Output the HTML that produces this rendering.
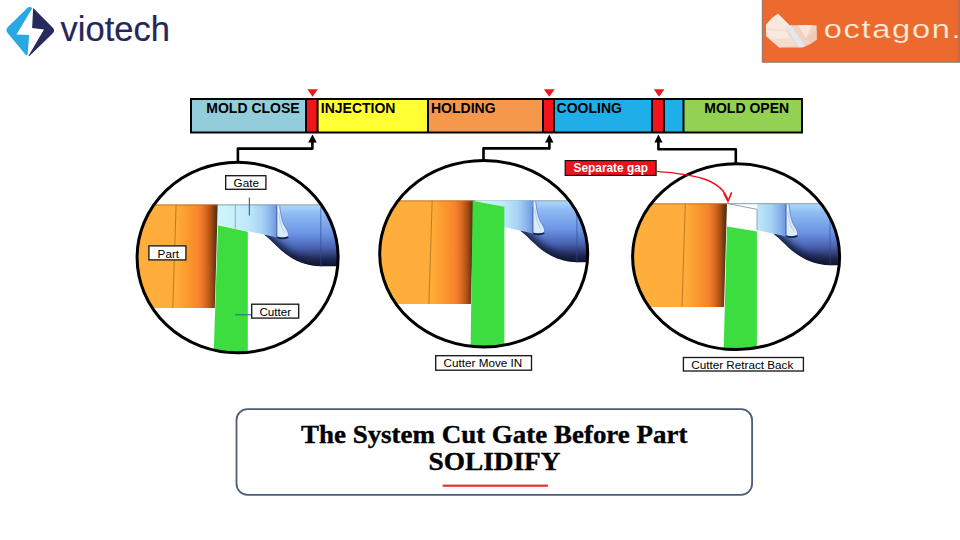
<!DOCTYPE html>
<html><head><meta charset="utf-8">
<style>
html,body{margin:0;padding:0;background:#fff;}
body{width:960px;height:540px;overflow:hidden;position:relative;}
svg{position:absolute;left:0;top:0;}
.bar{font-family:"Liberation Sans",Arial,sans-serif;font-weight:bold;font-size:14px;fill:#000;}
.lbl{font-family:"Liberation Sans",Arial,sans-serif;font-size:11.7px;fill:#000;}
</style></head>
<body>
<svg width="960" height="540" viewBox="0 0 960 540">
<defs>
  <linearGradient id="gOr" gradientUnits="userSpaceOnUse" x1="-140" y1="0" x2="0" y2="0">
    <stop offset="0" stop-color="#ffb03c"/>
    <stop offset="0.70" stop-color="#fead3a"/>
    <stop offset="0.757" stop-color="#fba030"/>
    <stop offset="0.829" stop-color="#f98e2a"/>
    <stop offset="0.864" stop-color="#f8832a"/>
    <stop offset="0.886" stop-color="#ee7828"/>
    <stop offset="0.914" stop-color="#d86820"/>
    <stop offset="0.936" stop-color="#c05a18"/>
    <stop offset="0.957" stop-color="#a04a18"/>
    <stop offset="0.979" stop-color="#6a3a10"/>
    <stop offset="1" stop-color="#4a3210"/>
  </linearGradient>
  <linearGradient id="gGate" gradientUnits="userSpaceOnUse" x1="0" y1="0" x2="59" y2="0">
    <stop offset="0" stop-color="#d0f6fc"/>
    <stop offset="0.5" stop-color="#bfeafa"/>
    <stop offset="0.75" stop-color="#a6d2f5"/>
    <stop offset="0.9" stop-color="#88b2ec"/>
    <stop offset="1" stop-color="#6c96e2"/>
  </linearGradient>
  <linearGradient id="gRun" gradientUnits="userSpaceOnUse" x1="0" y1="0" x2="0" y2="63">
    <stop offset="0" stop-color="#b0dcfa"/>
    <stop offset="0.14" stop-color="#90bcf4"/>
    <stop offset="0.46" stop-color="#6c94e4"/>
    <stop offset="0.68" stop-color="#4a64b4"/>
    <stop offset="0.83" stop-color="#2a3468"/>
    <stop offset="0.94" stop-color="#1a2040"/>
    <stop offset="1" stop-color="#121830"/>
  </linearGradient>
  <clipPath id="runClip"><path d="M46,30 C60,40 70,60 103,62 H160 V0 H59 V30 Z"/></clipPath>
  <filter id="bl3" x="-50%" y="-50%" width="200%" height="200%"><feGaussianBlur stdDeviation="3.5"/></filter>
  <clipPath id="c1"><ellipse cx="237.6" cy="257.5" rx="100.5" ry="95.3"/></clipPath>
  <clipPath id="c2"><ellipse cx="483.7" cy="253.7" rx="104" ry="93.3"/></clipPath>
  <clipPath id="c3"><ellipse cx="736.1" cy="256.7" rx="103.5" ry="92.9"/></clipPath>
  <g id="base">
    <!-- orange part -->
    <path d="M-160,0 H0 L-3,103.5 H-160 Z" fill="url(#gOr)"/>
    <path d="M-160,0.4 H0" stroke="#b86a2a" stroke-width="0.8"/>
    <path d="M-41.7,0 L-45,103.5" stroke="#b87420" stroke-width="0.9"/>
    <!-- runner -->
    <g clip-path="url(#runClip)">
      <path d="M46,30 C60,40 70,60 103,62 H160 V0 H59 V30 Z" fill="url(#gRun)"/>
      <path d="M38,27 C58,40 68,66 103,67 H165" stroke="#0e1430" stroke-width="16" fill="none" filter="url(#bl3)" opacity="0.85"/>
    </g>
    <path d="M103,2 V62" stroke="#2d4a8a" stroke-width="0.8" opacity="0.8"/>
    <!-- fillet swirl -->
    <path d="M59,0 L61.8,0 C62.8,9 63.8,15 66,20 C68.5,24.5 71.5,28 70.5,32 C67,33.5 62,33 59,32.5 Z" fill="#e4f2fd" opacity="0.92"/>
    <path d="M61.8,0.5 C62.8,9 63.8,15 66,20 C68.5,24.5 71.5,28 70.5,32" fill="none" stroke="#5a7cc4" stroke-width="0.8"/>
    <path d="M61,8 C62,18 64,24 67,28" fill="none" stroke="#9cc0ee" stroke-width="0.7"/>
    <path d="M59,32.8 C63,34 67,34.2 70.5,32.5" fill="none" stroke="#1a2550" stroke-width="1.8"/>
  </g>
</defs>

<!-- ============ LOGOS ============ -->
<g id="viotech">
  <path d="M32.3,8.2 L16.5,34.6 L29.2,35.1 L27.6,54.3 Q27.2,56.2 25.4,54.5 L7.8,33.2 Q5,30 7.9,27.1 L27,8.2 Q29.6,5.8 32.3,8.2 Z" fill="#29a9e1"/>
  <path d="M33.2,8.1 L52.6,27.4 Q55.6,30.4 52.6,33.4 L30.2,55.2 Q28.6,56.8 28.4,55.9 L44,29.4 L32.1,27.9 Z" fill="#262a5e"/>
  <text x="60.6" y="40.5" font-family="'Liberation Sans',Arial,sans-serif" font-size="34.5" stroke="#262759" stroke-width="0.2" fill="#262759">viotech</text>
</g>
<g id="octagon">
  <rect x="762" y="0" width="198" height="62" fill="#ec6a2e"/>
  <rect x="957.8" y="0" width="2.2" height="62" fill="#c4694c"/>
  <path d="M762.3,0 V62.3 H960" fill="none" stroke="#8a7a78" stroke-width="1"/>
  <polygon points="778,13.8 789.5,25.3 816.6,25.3 816.6,39.7 809.3,44.5 802.7,47.5 779.3,47.5 766,36.1 766,24.7 772,18" fill="#f2d2c0"/>
  <polygon points="778,13.8 789.5,25.3 786,30 766,28.5 766,24.7 772,18" fill="#f9e8de"/>
  <polygon points="766,28.5 786,30 796,45 779.3,47.5 766,36.1" fill="#f6dccd"/>
  <polygon points="766,30 786,31 790,38 770,39" fill="#fbeee6" opacity="0.7"/>
  <polygon points="785,27 791,25.3 805,46.5 799,47.3" fill="#e0e8f0"/>
  <polygon points="798,25.3 812,25.3 806,38" fill="#f8e6dc"/>
  <polygon points="806,38 816.6,30 816.6,39.7 809.3,44.5" fill="#efcab6"/>
  <text transform="translate(823.8,38.4) scale(1.28,1)" x="0" y="0" font-family="'Liberation Sans',Arial,sans-serif" font-size="25.5" letter-spacing="1.3" fill="#fdeedc" stroke="#ec6a2e" stroke-width="0.2">octagon.</text>
</g>

<!-- ============ TIMELINE BAR ============ -->
<g id="bar">
  <rect x="191" y="99" width="115" height="33.5" fill="#93cddc"/>
  <rect x="306" y="99" width="11.5" height="33.5" fill="#f2141c"/>
  <rect x="317.5" y="99" width="110.5" height="33.5" fill="#ffff33"/>
  <rect x="428" y="99" width="115" height="33.5" fill="#f5984c"/>
  <rect x="543" y="99" width="11" height="33.5" fill="#f2141c"/>
  <rect x="554" y="99" width="98" height="33.5" fill="#1eaee8"/>
  <rect x="652" y="99" width="12" height="33.5" fill="#f2141c"/>
  <rect x="664" y="99" width="19.5" height="33.5" fill="#1eaee8"/>
  <rect x="683.5" y="99" width="118.5" height="33.5" fill="#93d152"/>
  <g stroke="#000" stroke-width="2" fill="none">
    <rect x="191" y="99" width="611" height="33.5"/>
    <path d="M306,99V132.5 M317.6,99V132.5 M428,99V132.5 M543,99V132.5 M554,99V132.5 M652,99V132.5 M664,99V132.5 M683.5,99V132.5"/>
  </g>
  <text class="bar" x="206.3" y="112.8">MOLD CLOSE</text>
  <text class="bar" x="320.8" y="112.8">INJECTION</text>
  <text class="bar" x="431" y="112.8">HOLDING</text>
  <text class="bar" x="556.6" y="112.8">COOLING</text>
  <text class="bar" x="704.3" y="112.8">MOLD OPEN</text>
  <!-- red markers -->
  <g fill="#f0141c">
    <polygon points="307.4,89.2 317.8,89.2 312.6,96.8"/>
    <polygon points="543.9,89.2 554.7,89.2 549.3,96.8"/>
    <polygon points="653.8,89.2 664.4,89.2 659.1,96.8"/>
  </g>
</g>

<!-- ============ CONNECTORS ============ -->
<g stroke="#000" stroke-width="2.6" fill="none" stroke-linejoin="round">
  <path d="M237.9,162 V148.6 H312.4 V141"/>
  <path d="M483.5,160 V148.4 H549.4 V141"/>
  <path d="M735.8,163 V149.2 H658.4 V141"/>
</g>
<g fill="#000">
  <polygon points="308.2,142.6 316.8,142.6 312.5,134.6"/>
  <polygon points="545.1,142.6 553.5,142.6 549.3,134.6"/>
  <polygon points="654.4,142.4 662.6,142.4 658.4,134.6"/>
</g>

<!-- ============ CIRCLE 1 ============ -->
<g clip-path="url(#c1)">
  <g transform="translate(217.8,204.6)">
    <use href="#base"/>
    <!-- gate -->
    <path d="M0,0 H59 V33 L46,30 L0,20 Z" fill="url(#gGate)"/>
    <path d="M17.5,0.5 V25" stroke="#7c9cb0" stroke-width="0.8"/>
    <path d="M59,0 V33" stroke="#3b5a9a" stroke-width="1"/>
    <path d="M0,0.3 H160" stroke="#8a9caa" stroke-width="1"/>
    <!-- cutter -->
    <path d="M0.2,20.6 L30,27.1 V160 H-4.5 Z" fill="#3cdd3e"/>
  </g>
</g>
<ellipse cx="237.6" cy="257.5" rx="100.5" ry="95.3" fill="none" stroke="#000" stroke-width="3"/>

<!-- ============ CIRCLE 2 ============ -->
<g clip-path="url(#c2)">
  <g transform="translate(473.9,200.5)">
    <use href="#base"/>
    <path d="M30,6 H59 V33 L46,30 L30,26.5 Z" fill="url(#gGate)"/>
    <path d="M59,0 V33" stroke="#3b5a9a" stroke-width="1"/>
    <path d="M0,0.3 H160" stroke="#8a9caa" stroke-width="1"/>
    <path d="M0,0 H59 V6.5 H30 Z" fill="url(#gGate)"/>
    <path d="M-1.2,0.2 L30.5,6.2 V160 H-3.5 Z" fill="#3cdd3e"/>
  </g>
</g>
<ellipse cx="483.7" cy="253.7" rx="104" ry="93.3" fill="none" stroke="#000" stroke-width="3"/>

<!-- ============ CIRCLE 3 ============ -->
<g clip-path="url(#c3)">
  <g transform="translate(727,203.4)">
    <use href="#base"/>
    <path d="M30,0 H59 V33 L46,30 L30,26.8 Z" fill="url(#gGate)"/>
    <path d="M59,0 V33" stroke="#3b5a9a" stroke-width="1"/>
    <path d="M0,0 L30,6 V26.8" fill="#fff" stroke="#8a98a4" stroke-width="0.9"/>
    <path d="M0,0.3 H160" stroke="#8a9caa" stroke-width="1"/>
    <path d="M0,23.1 L29.9,28.2 V160 H-3.7 Z" fill="#3cdd3e"/>
  </g>
</g>
<ellipse cx="736.1" cy="256.7" rx="103.5" ry="92.9" fill="none" stroke="#000" stroke-width="3"/>

<!-- ============ LABELS ============ -->
<g>
  <path d="M249.4,197.4 V215.5" stroke="#3e6a96" stroke-width="1.2"/>
  <rect x="225.7" y="175.7" width="40.2" height="13.6" fill="#fff" stroke="#1a1a1a" stroke-width="1.35"/>
  <text class="lbl" x="233.6" y="186.6">Gate</text>

  <rect x="148.9" y="245.9" width="37" height="14" fill="#fff" stroke="#1a1a1a" stroke-width="1.35"/>
  <text class="lbl" x="157.6" y="257.8">Part</text>

  <path d="M235,314.8 H251.3" stroke="#3e6a96" stroke-width="1.2"/>
  <rect x="251.7" y="304.2" width="47" height="13.9" fill="#fff" stroke="#1a1a1a" stroke-width="1.35"/>
  <text class="lbl" x="259.4" y="315.6">Cutter</text>

  <rect x="435.7" y="355.7" width="95.8" height="14.5" fill="#fff" stroke="#1a1a1a" stroke-width="1.35"/>
  <text class="lbl" x="443.6" y="366.5">Cutter Move IN</text>

  <rect x="683.4" y="357.5" width="120" height="13.5" fill="#fff" stroke="#1a1a1a" stroke-width="1.35"/>
  <text class="lbl" x="691.3" y="368.6">Cutter Retract Back</text>
</g>

<!-- separate gap -->
<g>
  <rect x="565.2" y="160.6" width="90.9" height="14.8" fill="#e8141e" stroke="#1e0a0a" stroke-width="1.2"/>
  <text x="573.6" y="171.6" font-family="'Liberation Sans',Arial,sans-serif" font-weight="bold" font-size="11.85" fill="#fff">Separate gap</text>
  <path d="M656.4,171.4 C690,174 722,178 727.8,200.5" fill="none" stroke="#e8141e" stroke-width="1.45"/>
  <path d="M723.8,193.2 L728,201.4 L731.6,192.4" fill="none" stroke="#e8141e" stroke-width="1.6" stroke-linejoin="miter"/>
</g>

<!-- ============ TITLE ============ -->
<rect x="236.5" y="409.2" width="515.6" height="85.6" rx="11" ry="11" fill="#fff" stroke="#4d5d7c" stroke-width="1.8"/>
<text transform="translate(494.2,443.2) scale(1.066,1)" x="0" y="0" text-anchor="middle" font-family="'Liberation Serif','Times New Roman',serif" font-weight="bold" font-size="25.3" fill="#000" stroke="#000" stroke-width="0.35">The System Cut Gate Before Part</text>
<text transform="translate(494.5,470.4) scale(1.08,1)" x="0" y="0" text-anchor="middle" font-family="'Liberation Serif','Times New Roman',serif" font-weight="bold" font-size="25.3" fill="#000" stroke="#000" stroke-width="0.35">SOLIDIFY</text>
<rect x="442.7" y="484.6" width="105.1" height="2.2" fill="#e23030"/>
</svg>
</body></html>
